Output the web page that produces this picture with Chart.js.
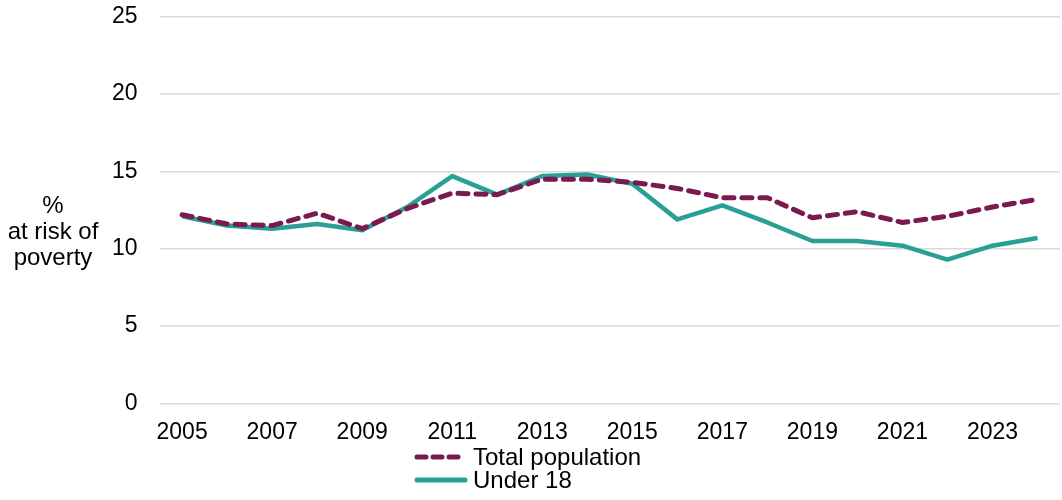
<!DOCTYPE html>
<html>
<head>
<meta charset="utf-8">
<script src="https://cdn.jsdelivr.net/npm/chart.js@4/dist/chart.umd.min.js"></script>
<style>
  html, body { margin: 0; padding: 0; background: #fff; }
  body { width: 1062px; height: 500px; position: relative; overflow: hidden;
         font-family: "Liberation Sans", Arial, sans-serif; color: #000; }
  #wrap { position: absolute; left: 0; top: -19px; width: 1062px; height: 480px; }
  #yTitle { position: absolute; left: 0; width: 106px; top: 192px; text-align: center;
            font-size: 24px; line-height: 26px; }
  #legend { position: absolute; left: 414px; top: 445px; font-size: 24px; line-height: 23px; }
  .item { display: flex; align-items: center; height: 23px; }
  .item svg { margin-right: 5px; }
</style>
</head>
<body>
<div id="wrap"><canvas id="chart"></canvas></div>
<div id="yTitle">%<br>at risk of<br>poverty</div>
<div id="legend">
  <div class="item"><svg width="54" height="10"><line x1="3" y1="5" x2="51" y2="5" stroke="#7a1a4f" stroke-width="5" stroke-dasharray="9 7" stroke-linecap="round"/></svg>Total population</div>
  <div class="item"><svg width="54" height="10"><line x1="3" y1="5" x2="51" y2="5" stroke="#2a9f93" stroke-width="5" stroke-linecap="round"/></svg>Under 18</div>
</div>
<script>
// years on the x axis
const years = ['2005', '2006', '2007', '2008', '2009', '2010', '2011', '2012', '2013', '2014',
               '2015', '2016', '2017', '2018', '2019', '2020', '2021', '2022', '2023', '2024'];

// % at risk of poverty
const totalPopulation = [12.2, 11.6, 11.5, 12.3, 11.3, 12.6, 13.6, 13.5, 14.5, 14.5,
                         14.3, 13.9, 13.3, 13.3, 12.0, 12.4, 11.7, 12.1, 12.7, 13.2];
const under18 = [12.1, 11.5, 11.3, 11.6, 11.2, 12.7, 14.7, 13.5, 14.7, 14.8,
                 14.2, 11.9, 12.8, 11.7, 10.5, 10.5, 10.2, 9.3, 10.2, 10.7];

const yTicks = [0, 5, 10, 15, 20, 25];

const FONT = { family: '"Liberation Sans", Arial, sans-serif', size: 23 };

new Chart(document.getElementById('chart'), {
  type: 'line',
  data: {
    labels: years,
    datasets: [
      {
        label: 'Total population',
        data: totalPopulation,
        borderColor: '#7a1a4f',
        borderWidth: 5,
        borderDash: [10, 8],
        borderCapStyle: 'round',
        borderJoinStyle: 'round',
        pointRadius: 0,
        tension: 0
      },
      {
        label: 'Under 18',
        data: under18,
        borderColor: '#2a9f93',
        borderWidth: 4.5,
        borderJoinStyle: 'round',
        pointRadius: 0,
        tension: 0
      }
    ]
  },
  options: {
    responsive: true,
    maintainAspectRatio: false,
    animation: false,
    layout: { padding: { left: 90, right: 2, top: 5, bottom: 0 } },
    plugins: {
      legend: { display: false },
      tooltip: { enabled: false }
    },
    scales: {
      x: {
        offset: true,
        grid: { display: false, drawTicks: false },
        border: { display: false },
        ticks: {
          autoSkip: false,
          maxRotation: 0,
          padding: 15,
          color: '#000',
          font: FONT,
          callback: (v, i) => (i % 2 === 0 ? years[i] : '')
        }
      },
      y: {
        min: yTicks[0],
        max: yTicks[yTicks.length - 1],
        afterBuildTicks: axis => { axis.ticks = yTicks.map(v => ({ value: v })); },
        grid: { color: '#d9d9d9', lineWidth: 1.5, drawTicks: false },
        border: { display: false },
        ticks: {
          padding: 22,
          color: '#000',
          font: FONT
        }
      }
    }
  }
});
</script>
</body>
</html>
